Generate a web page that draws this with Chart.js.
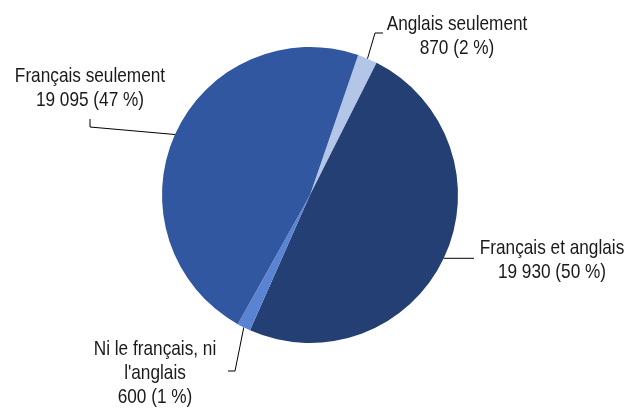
<!DOCTYPE html>
<html>
<head>
<meta charset="utf-8">
<script src="https://cdn.jsdelivr.net/npm/chart.js@4"></script>
<style>
  html, body { margin: 0; padding: 0; background: #fff; }
  #wrap { width: 637px; height: 409px; position: relative; }
</style>
</head>
<body>
<div id="wrap"><canvas id="pie-chart"></canvas></div>
<script>
// data
const categories = ['Anglais seulement', 'Français et anglais', 'Ni le français, ni l\'anglais', 'Français seulement']
const counts = [870, 19930, 600, 19095]
const labelLines = [
    ['Anglais seulement', '870 (2 %)'],
    ['Français et anglais', '19 930 (50 %)'],
    ['Ni le français, ni', 'l\'anglais', '600 (1 %)'],
    ['Français seulement', '19 095 (47 %)']
]

const sliceColors = ['#b4c6e7', '#233f73', '#5b83d4', '#3157a1']

// where each label sits (center x, first baseline) and how its leader line bends
const labelLayout = [
    { x: 457, y: 30, elbow: [375, 33], end: [383, 33] },
    { x: 552, y: 254, elbow: null, end: [474, 258] },
    { x: 155, y: 355, elbow: [235, 371], end: [228, 371] },
    { x: 90, y: 82, elbow: [90, 127], end: [90, 119] }
]

// narrow sans look: Liberation Sans squeezed horizontally
const labelFont = '21px "Liberation Sans", Arial, sans-serif'
const squeeze = 0.82
const lineGap = 24

const calloutPlugin = {
    id: 'callouts',
    afterDatasetsDraw(chart) {
        const ctx = chart.ctx
        const arcs = chart.getDatasetMeta(0).data
        arcs.forEach((arc, i) => {
            const p = arc.getProps(['x', 'y', 'startAngle', 'endAngle', 'outerRadius'], true)
            const mid = (p.startAngle + p.endAngle) / 2
            const ax = p.x + Math.cos(mid) * p.outerRadius
            const ay = p.y + Math.sin(mid) * p.outerRadius
            const lay = labelLayout[i]

            ctx.save()
            ctx.strokeStyle = '#000'
            ctx.lineWidth = 1
            ctx.beginPath()
            ctx.moveTo(ax, ay)
            if (lay.elbow) {
                ctx.lineTo(lay.elbow[0], lay.elbow[1])
                ctx.lineTo(lay.end[0], lay.end[1])
            } else {
                ctx.lineTo(lay.end[0], ay)
            }
            ctx.stroke()
            ctx.restore()

            ctx.save()
            ctx.fillStyle = '#1a1a1a'
            ctx.font = labelFont
            ctx.textAlign = 'center'
            ctx.textBaseline = 'alphabetic'
            ctx.translate(lay.x, lay.y)
            ctx.scale(squeeze, 1)
            labelLines[i].forEach((line, j) => {
                ctx.fillText(line, 0, j * lineGap)
            })
            ctx.restore()
        })
    }
}

new Chart(document.getElementById('pie-chart'), {
    type: 'pie',
    data: {
        labels: categories,
        datasets: [{
            data: counts,
            backgroundColor: sliceColors,
            borderWidth: 0
        }]
    },
    options: {
        responsive: true,
        maintainAspectRatio: false,
        animation: false,
        rotation: 19,
        layout: {
            padding: { left: 162, right: 179, top: 47, bottom: 66 }
        },
        plugins: {
            legend: { display: false },
            tooltip: { enabled: false }
        }
    },
    plugins: [calloutPlugin]
})
</script>
</body>
</html>
